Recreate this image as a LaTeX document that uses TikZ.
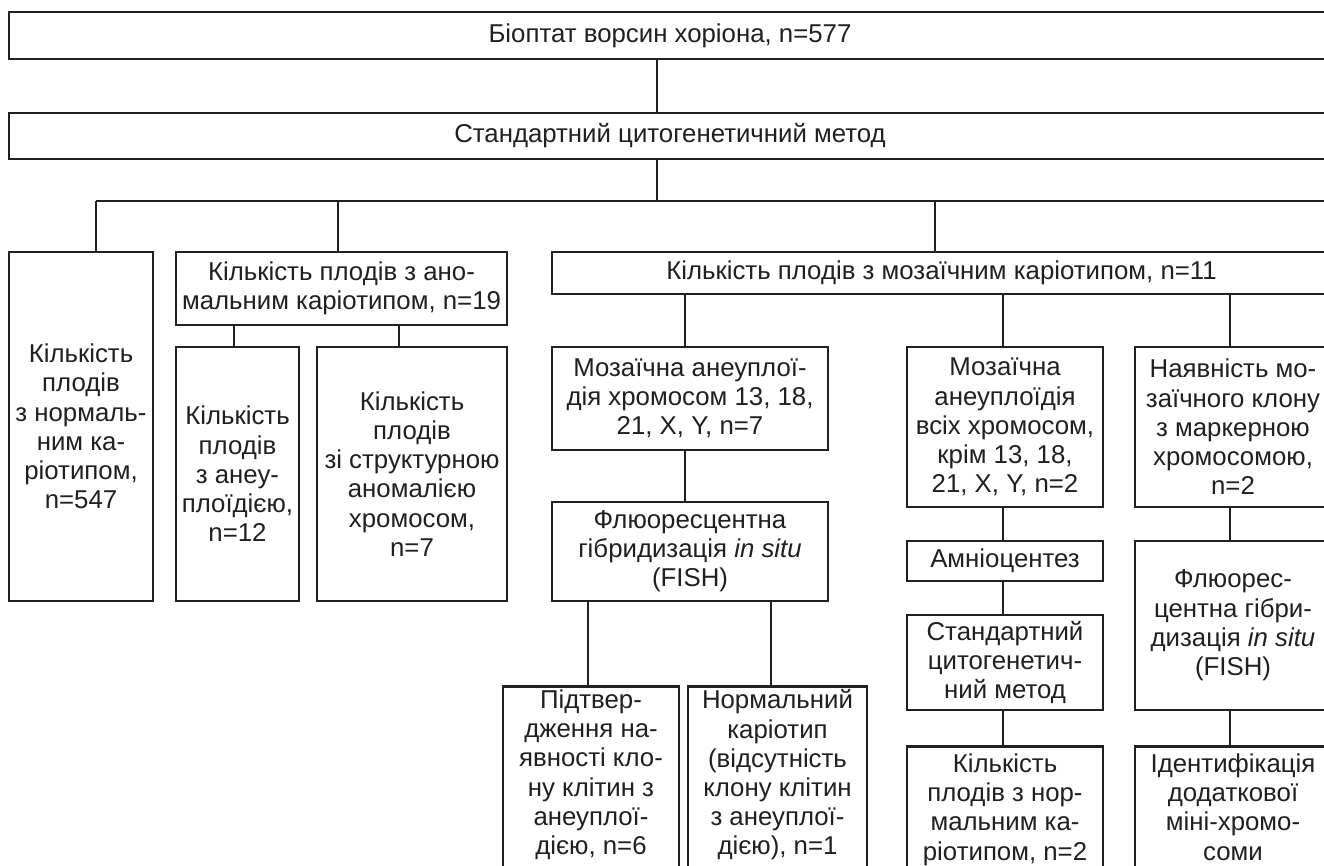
\documentclass[tikz,border=0pt]{standalone}
\usepackage{fontspec}
\setmainfont{Liberation Sans}
\definecolor{lc}{HTML}{231F20}
\newcommand\myfs{\fontsize{25.8}{29.2}\selectfont}
\begin{document}
\begin{tikzpicture}[x=1pt,y=-1pt,
  box/.style={draw=lc, line width=2.5pt, inner sep=0pt, align=center, font=\myfs, text=lc},
  openbox/.style={box, anchor=north, text depth=200pt},
  conn/.style={draw=lc, line width=2.5pt}]
\useasboundingbox (0,0) rectangle (1324,866);
\clip (0,0) rectangle (1324,866);
\fill[white] (0,0) rectangle (1324,866);

\node[box, minimum width=1322, minimum height=47] (top) at (670,35.5) {Біоптат ворсин хоріона, n=577};
\node[box, minimum width=1322, minimum height=46] (std) at (670,136) {Стандартний цитогенетичний метод};

\node[box, minimum width=144, minimum height=349] (normal) at (81,426.5) {Кількість\\плодів\\з нормаль-\\ним ка-\\ріотипом,\\n=547};
\node[box, minimum width=331, minimum height=73] (anom) at (341.5,288.5) {Кількість плодів з ано-\\мальним каріотипом, n=19};
\node[box, minimum width=123, minimum height=254] (aneu) at (237.5,474) {Кількість\\плодів\\з анеу-\\плоїдією,\\n=12};
\node[box, minimum width=190, minimum height=254] (struct) at (412,474) {Кількість\\плодів\\зі структурною\\аномалією\\хромосом,\\n=7};

\node[box, minimum width=779, minimum height=42] (mosaic) at (941.5,273) {Кількість плодів з мозаїчним каріотипом, n=11};
\node[box, minimum width=276, minimum height=103] (m7) at (690,398.5) {Мозаїчна анеуплої-\\дія хромосом 13, 18,\\21, X, Y, n=7};
\node[box, minimum width=276, minimum height=99] (fish1) at (690,551.5) {Флюоресцентна\\гібридизація \textit{in situ}\\(FISH)};
\node[openbox, minimum width=176, inner ysep=3.5pt] (conf) at (591,685) {Підтвер-\\дження на-\\явності кло-\\ну клітин з\\анеуплої-\\дією, n=6};
\node[openbox, minimum width=179, inner ysep=3.5pt] (normk) at (777.5,685) {Нормальний\\каріотип\\(відсутність\\клону клітин\\з анеуплої-\\дією), n=1};

\node[box, minimum width=196, minimum height=160] (mall) at (1005,427) {Мозаїчна\\анеуплоїдія\\всіх хромосом,\\крім 13, 18,\\21, X, Y, n=2};
\node[box, minimum width=196, minimum height=160] (marker) at (1233,427) {Наявність мо-\\заїчного клону\\з маркерною\\хромосомою,\\n=2};
\node[box, minimum width=196, minimum height=40] (amnio) at (1005,561) {Амніоцентез};
\node[box, minimum width=196, minimum height=95] (std2) at (1005,662.5) {Стандартний\\цитогенетич-\\ний метод};
\node[openbox, minimum width=196, inner ysep=7.5pt] (cnt2) at (1005,745) {Кількість\\плодів з нор-\\мальним ка-\\ріотипом, n=2};
\node[box, minimum width=196, minimum height=169] (fish2) at (1233,625.5) {Флюорес-\\центна гібри-\\дизація \textit{in situ}\\(FISH)};
\node[openbox, minimum width=196, inner ysep=7.5pt] (ident) at (1233,745) {Ідентифікація\\додаткової\\міні-хромо-\\соми};

% connectors
\coordinate (busL) at (96,201);
\coordinate (busC) at (657,201);
\coordinate (busA) at (338,201);
\coordinate (busM) at (935,201);
\coordinate (busR) at (1340,201);
\draw[conn] (top.south -| busC) -- (std.north -| busC);
\draw[conn] (std.south -| busC) -- (busC);
\draw[conn] (busL) -- (busR);
\draw[conn] (busL) -- (normal.north -| busL);
\draw[conn] (busA) -- (anom.north -| busA);
\draw[conn] (busM) -- (mosaic.north -| busM);
\draw[conn] (anom.south -| 234,0) -- (aneu.north -| 234,0);
\draw[conn] (anom.south -| 399,0) -- (struct.north -| 399,0);
\draw[conn] (mosaic.south -| 685,0) -- (m7.north -| 685,0);
\draw[conn] (m7.south -| 685,0) -- (fish1.north -| 685,0);
\draw[conn] (fish1.south -| 588,0) -- (conf.north -| 588,0);
\draw[conn] (fish1.south -| 771,0) -- (normk.north -| 771,0);
\draw[conn] (mosaic.south -| 1003,0) -- (mall.north -| 1003,0);
\draw[conn] (mall.south -| 1003,0) -- (amnio.north -| 1003,0);
\draw[conn] (amnio.south -| 1003,0) -- (std2.north -| 1003,0);
\draw[conn] (std2.south -| 1003,0) -- (cnt2.north -| 1003,0);
\draw[conn] (mosaic.south -| 1230,0) -- (marker.north -| 1230,0);
\draw[conn] (marker.south -| 1230,0) -- (fish2.north -| 1230,0);
\draw[conn] (fish2.south -| 1230,0) -- (ident.north -| 1230,0);
\end{tikzpicture}
\end{document}
